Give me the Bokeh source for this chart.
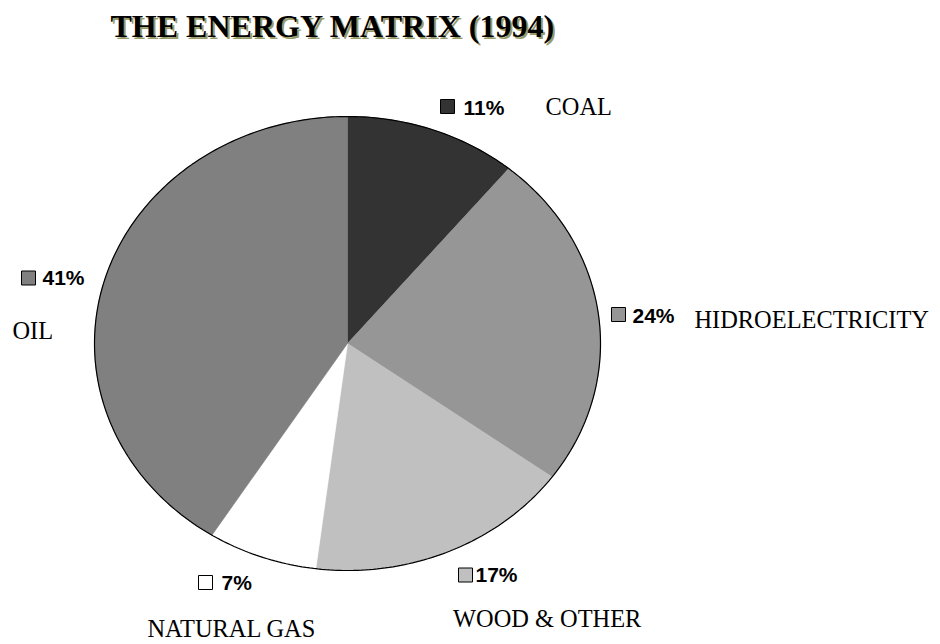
import numpy as np
from bokeh.plotting import figure
from bokeh.models import Range1d
from bokeh.core.properties import value
from bokeh.embed import file_html
from bokeh.resources import INLINE

# ---- data ----
categories = ["COAL", "HIDROELECTRICITY", "WOOD & OTHER", "NATURAL GAS", "OIL"]
shares = [11, 24, 17, 7, 41]
pct_labels = ["11%", "24%", "17%", "7%", "41%"]
colors = ["#333333", "#969696", "#c0c0c0", "#ffffff", "#808080"]
title = "THE ENERGY MATRIX (1994)"

# ---- layout (canvas pixels, y downward) ----
W, H = 932, 642
cx, cy, rx, ry = 347, 343, 253, 227
# legend square centres, percentage text left/middle, category text left/middle
sq_pos = [(447, 106), (618, 314), (465, 574.5), (205, 582), (28, 277.5)]
pct_pos = [(463, 106.5), (632, 314.5), (475, 574), (221, 582), (42, 277)]
cat_pos = [(545, 106), (694, 319), (452.5, 618), (147, 627.5), (12, 330)]

p = figure(width=W, height=H, x_range=Range1d(0, W), y_range=Range1d(H, 0),
           output_backend="svg", toolbar_location=None,
           x_axis_location=None, y_axis_location=None, min_border=0)
p.outline_line_color = None
p.grid.visible = False
p.background_fill_color = "white"
p.border_fill_color = "white"

# pie slices (elliptical), clockwise from 12 o'clock
total = float(sum(shares))
fr = np.cumsum([0] + shares) / total
xs, ys = [], []
for i in range(len(shares)):
    t = np.linspace(fr[i], fr[i + 1], 120) * 2 * np.pi
    xs.append([cx] + list(cx + rx * np.sin(t)) + [cx])
    ys.append([cy] + list(cy - ry * np.cos(t)) + [cy])
p.patches(xs, ys, fill_color=colors, line_color=colors, line_width=0.6)

tt = np.linspace(0, 2 * np.pi, 400)
p.line(cx + rx * np.sin(tt), cy - ry * np.cos(tt), line_color="black", line_width=1.2)

# legend squares
p.rect([s[0] for s in sq_pos], [s[1] for s in sq_pos], width=14, height=14,
       fill_color=colors, line_color="black", line_width=1)

# percentage labels
p.text([q[0] for q in pct_pos], [q[1] for q in pct_pos], text=pct_labels,
       text_font=value("Liberation Sans"), text_font_style="bold",
       text_font_size="21px", text_baseline="middle", text_align="left",
       text_color="black")

# category names
p.text([q[0] for q in cat_pos], [q[1] for q in cat_pos], text=categories,
       text_font=value("Liberation Serif"), text_font_size="24.4px",
       text_baseline="middle", text_align="left", text_color="black")

# title with shadow
p.text([112], [27], text=[title], text_font=value("Liberation Serif"),
       text_font_style="bold", text_font_size="32px", text_baseline="middle",
       text_color="#9a9a68")
p.text([110], [25], text=[title], text_font=value("Liberation Serif"),
       text_font_style="bold", text_font_size="32px", text_baseline="middle",
       text_color="black")

open("out.html", "w").write(file_html(p, INLINE))
